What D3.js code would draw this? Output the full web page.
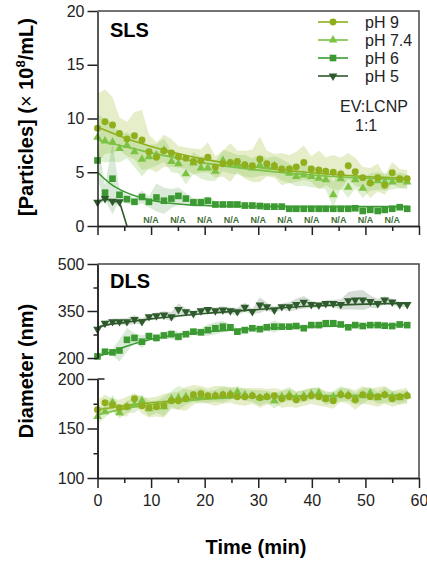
<!DOCTYPE html>
<html>
<head>
<meta charset="utf-8">
<script src="https://cdn.jsdelivr.net/npm/d3@7"></script>
<style>
  body { margin: 0; background: #fff; }
  text { font-family: "Liberation Sans", Arial, sans-serif; }
</style>
</head>
<body>
<svg id="chart" width="427" height="563"></svg>
<script>
// time points (min)
const time = [0, 1.4, 2.8, 4.1, 5.5, 6.9, 8.3, 9.6, 11, 12.4, 13.8, 15.1, 16.5, 17.9, 19.3, 20.6, 22, 23.4, 24.8, 26.1,
  27.5, 28.9, 30.3, 31.6, 33, 34.4, 35.8, 37.1, 38.5, 39.9, 41.3, 42.6, 44, 45.4, 46.8, 48.1, 49.5, 50.9, 52.3, 53.6,
  55, 56.4, 57.8];

// SLS particle concentration (x 10^8 / mL)
const slsPH9 = [9.1, 9.7, 9.4, 8.6, 8.1, 8.4, 8.0, 6.9, 6.4, 7.0, 6.8, 6.45, 6.3, 6.0, 6.05, 6.4, 5.5, 5.8, 5.9, 6.0,
  5.7, 5.6, 6.2, 5.8, 5.6, 5.3, 5.3, 5.5, 5.9, 5.3, 5.2, 5.1, 5.0, 4.85, 5.6, 5.05, 4.5, 4.0, 4.5, 3.8, 4.95, 4.4, 4.4];
const slsErr9 = [3.2, 3.0, 2.6, 1.5, 1.6, 2.2, 2.8, 1.6, 1.4, 1.5, 1.3, 1.0, 1.0, 1.2, 1.1, 1.4, 1.0, 1.2, 1.8, 1.0,
  1.3, 1.5, 2.1, 1.2, 1.1, 1.5, 1.3, 1.4, 1.6, 1.2, 1.8, 1.3, 1.6, 1.5, 1.2, 1.3, 1.0, 1.4, 1.3, 0.9, 1.0, 0.9, 0.8];
const slsPH74 = [8.25, 7.9, 7.8, 7.2, 7.5, 6.9, 6.2, 6.45, 6.6, 7.05, 6.0, 5.8, 4.85, 5.85, 5.4, 5.4, 5.1, 6.1, 5.85, 5.7,
  5.6, 5.4, 5.65, 5.5, 5.6, 5.2, 4.9, 4.6, 4.75, 4.6, 4.45, 4.3, 2.9, 4.4, 3.6, 4.3, 3.5, 4.1, 4.2, 4.1, 4.1, 4.25, 4.1];
const slsErr74 = [2.2, 2.0, 1.8, 1.3, 1.2, 1.4, 1.6, 1.1, 1.0, 1.1, 1.0, 0.9, 1.0, 1.0, 1.0, 1.2, 0.9, 1.0, 1.0, 0.9,
  1.0, 0.9, 1.0, 0.8, 0.9, 1.0, 0.9, 0.9, 1.0, 1.0, 0.9, 0.9, 1.2, 0.9, 1.0, 0.8, 0.9, 0.8, 0.8, 0.8, 0.7, 0.7, 0.7];
const slsPH6 = [6.1, 3.1, 4.4, 2.9, 2.5, 2.25, 2.7, 2.25, 2.65, 2.35, 2.55, 2.8, 2.55, 2.2, 2.2, 2.35, 2.0, 2.0, 2.0, 2.0,
  1.9, 1.9, 1.86, 1.8, 1.8, 1.8, 1.6, 1.6, 1.6, 1.6, 1.6, 1.6, 1.6, 1.6, 1.6, 1.65, 1.4, 1.5, 1.4, 1.5, 1.6, 1.75, 1.6];
const slsErr6 = [1.8, 0.7, 3.3, 0.5, 0.4, 0.3, 0.6, 0.5, 1.3, 1.2, 0.9, 0.8, 0.5, 0.4, 0.4, 0.4, 0.3, 0.3, 0.3, 0.3,
  0.3, 0.3, 0.3, 0.3, 0.3, 0.3, 0.2, 0.2, 0.2, 0.2, 0.2, 0.2, 0.2, 0.2, 0.2, 0.2, 0.2, 0.2, 0.2, 0.2, 0.2, 0.3, 0.2];
const slsPH5 = [2.2, 2.55, 2.3, 2.25, 0];
const slsErr5 = [0.3, 0.2, 0.2, 0.2, 0];
const naTimes = [10, 15, 20, 25, 30, 35, 40, 45, 50, 55];

// DLS diameter (nm)
const dlsPH5 = [292, 311, 316, 316, 316, 323, 316, 332, 335, 337, 332, 355, 348, 342, 351, 355, 351, 353, 351, 348,
  362, 348, 369, 364, 353, 364, 364, 371, 378, 371, 369, 374, 374, 371, 383, 385, 385, 380, 374, 385, 379, 371, 371];
const dlsErr5 = [6, 8, 10, 10, 12, 14, 10, 8, 10, 12, 15, 20, 10, 9, 10, 8, 10, 12, 10, 12,
  14, 8, 25, 12, 10, 10, 15, 18, 20, 12, 8, 10, 12, 16, 28, 30, 32, 20, 15, 12, 10, 8, 8];
const dlsPH6 = [205, 220, 218, 224, 258, 264, 252, 270, 264, 272, 276, 268, 276, 284, 282, 289, 295, 300, 298, 284,
  289, 295, 292, 298, 300, 300, 300, 302, 295, 305, 305, 311, 311, 307, 298, 305, 302, 305, 305, 303, 302, 307, 305];
const dlsErr6 = [5, 8, 10, 35, 38, 15, 20, 10, 12, 10, 15, 15, 10, 10, 12, 18, 20, 18, 10, 10,
  10, 8, 10, 12, 19, 10, 8, 8, 8, 8, 10, 10, 10, 8, 8, 8, 8, 8, 8, 8, 8, 10, 8];
const dlsPH9 = [169, 176, 174, 171, 172, 180, 173, 171, 172, 173, 178, 178, 180, 184, 185, 183, 183, 184, 184, 182,
  182, 183, 181, 182, 183, 180, 182, 179, 181, 183, 182, 180, 178, 184, 183, 179, 184, 182, 182, 184, 180, 182, 183];
const dlsErr9 = [10, 8, 6, 8, 10, 6, 8, 10, 10, 12, 8, 9, 12, 10, 8, 8, 10, 9, 8, 8,
  9, 8, 10, 8, 8, 9, 10, 8, 8, 8, 9, 8, 8, 7, 8, 10, 9, 8, 10, 9, 8, 8, 8];
const dlsPH74 = [162, 167, 176, 166, 172, 174, 178, 170, 172, 172, 180, 181, 182, 183, 183, 182, 183, 184, 185, 187,
  184, 183, 181, 182, 178, 182, 184, 181, 183, 185, 186, 180, 182, 185, 184, 180, 183, 186, 181, 184, 182, 181, 183];
const dlsErr74 = [8, 6, 8, 6, 6, 8, 6, 8, 6, 10, 8, 12, 8, 6, 8, 6, 6, 8, 6, 6,
  6, 6, 8, 6, 8, 6, 6, 6, 6, 6, 6, 6, 6, 8, 6, 6, 8, 6, 6, 8, 6, 6, 6];

// fitted curves, read at a few time points
const fitTime = [0, 2.5, 5, 10, 15, 20, 30, 40, 50, 58];
const slsFit9 = [9.2, 8.7, 8.2, 7.4, 6.75, 6.2, 5.45, 4.95, 4.6, 4.45];
const slsFit74 = [8.0, 7.7, 7.4, 6.8, 6.3, 5.85, 5.2, 4.75, 4.45, 4.3];
const slsFit6 = [5.0, 3.9, 3.2, 2.4, 2.05, 1.9, 1.82, 1.8, 1.8, 1.8];
const dlsFit5 = [298, 308, 313, 325, 334, 342, 355, 366, 372, 375];
const dlsFit6 = [205, 218, 235, 260, 274, 283, 294, 300, 304, 306];
const dlsFit9 = [169, 171, 173, 176, 178.5, 180.5, 182, 183, 183, 183];
const dlsFit74 = [164, 167, 170, 174, 177, 179.5, 182, 183, 183.5, 184];

const legendLabels = ['pH 9', 'pH 7.4', 'pH 6', 'pH 5'];
const colors = ['#8fb01c', '#7cc243', '#3c9a32', '#2e5b2b'];
const bands = ['rgba(150,185,40,0.25)', 'rgba(125,195,70,0.25)', 'rgba(70,150,60,0.2)', 'rgba(70,100,70,0.22)'];
const symbols = [d3.symbolCircle, d3.symbolTriangle, d3.symbolSquare, d3.symbolTriangle];
const symSizes = [38, 32, 44, 32];

const svg = d3.select('#chart');
const x = d3.scaleLinear().domain([0, 60]).range([97.5, 419]);
const ySLS = d3.scaleLinear().domain([0, 20]).range([226, 11]);
const yTop = d3.scaleLinear().domain([200, 500]).range([358, 264]);
const yBot = d3.scaleLinear().domain([100, 200]).range([478, 379]);

const drawBand = (y, vals, errs, k) => {
  const area = d3.area()
    .x(i => x(time[i]))
    .y0(i => y(vals[i] - errs[i]))
    .y1(i => y(vals[i] + errs[i]));
  svg.append('path')
    .attr('d', area(d3.range(vals.length)))
    .attr('fill', bands[k]);
};

const drawFit = (y, fit, k) => {
  const line = d3.line()
    .x((d, i) => x(fitTime[i]))
    .y(d => y(d))
    .curve(d3.curveMonotoneX);
  svg.append('path')
    .attr('d', line(fit))
    .attr('fill', 'none')
    .attr('stroke', colors[k])
    .attr('stroke-width', 1.6);
};

const drawMarkers = (y, vals, k) => {
  const sym = d3.symbol(symbols[k], symSizes[k]);
  svg.append('g').selectAll('path')
    .data(vals.map((v, i) => ({ t: time[i], v })).filter(d => d.v > 0))
    .enter()
    .append('path')
    .attr('d', sym)
    .attr('transform', d => `translate(${x(d.t)},${y(d.v)})` + (k === 3 ? ' rotate(180)' : ''))
    .attr('fill', colors[k]);
};

// ---- SLS panel ----
drawBand(ySLS, slsPH9, slsErr9, 0);
drawBand(ySLS, slsPH74, slsErr74, 1);
drawBand(ySLS, slsPH6, slsErr6, 2);
drawBand(ySLS, slsPH5, slsErr5, 3);
drawFit(ySLS, slsFit9, 0);
drawFit(ySLS, slsFit74, 1);
drawFit(ySLS, slsFit6, 2);
svg.append('path')
  .attr('d', d3.line().x((d, i) => x(time[i])).y(d => ySLS(d))(slsPH5))
  .attr('fill', 'none')
  .attr('stroke', colors[3])
  .attr('stroke-width', 1.6);
drawMarkers(ySLS, slsPH74, 1);
drawMarkers(ySLS, slsPH9, 0);
drawMarkers(ySLS, slsPH6, 2);
drawMarkers(ySLS, slsPH5, 3);

svg.append('g').selectAll('text')
  .data(naTimes)
  .enter()
  .append('text')
  .attr('x', d => x(d))
  .attr('y', ySLS(0) - 3)
  .attr('text-anchor', 'middle')
  .attr('font-size', 9)
  .attr('font-weight', 'bold')
  .attr('fill', '#3f6e37')
  .text('N/A');

// ---- DLS panel ----
drawBand(yTop, dlsPH5, dlsErr5, 3);
drawBand(yTop, dlsPH6, dlsErr6, 2);
drawBand(yBot, dlsPH9, dlsErr9, 0);
drawBand(yBot, dlsPH74, dlsErr74, 1);
drawFit(yTop, dlsFit5, 3);
drawFit(yTop, dlsFit6, 2);
drawFit(yBot, dlsFit9, 0);
drawFit(yBot, dlsFit74, 1);
drawMarkers(yTop, dlsPH5, 3);
drawMarkers(yTop, dlsPH6, 2);
drawMarkers(yBot, dlsPH74, 1);
drawMarkers(yBot, dlsPH9, 0);

// ---- axes ----
const styleAxis = (g, fs) => {
  g.attr('font-size', fs).attr('font-family', '"Liberation Sans", Arial, sans-serif').attr('color', '#222');
  g.selectAll('path, line').attr('stroke-width', 1.5);
  g.selectAll('text').attr('fill', '#222');
};

svg.append('g').attr('transform', `translate(${x(0)},0)`)
  .call(d3.axisLeft(ySLS).tickValues([0, 5, 10, 15, 20]).tickSize(10).tickSizeOuter(0).tickPadding(3))
  .call(g => styleAxis(g, 16));

svg.append('g').attr('transform', `translate(${x(0)},0)`)
  .call(d3.axisLeft(yTop).tickValues([200, 350, 500]).tickSize(10).tickSizeOuter(0).tickPadding(3))
  .call(g => styleAxis(g, 16));
svg.append('g').attr('transform', `translate(${x(0)},0)`)
  .call(d3.axisLeft(yTop).tickValues([275, 425]).tickSize(4).tickSizeOuter(0).tickFormat(''))
  .call(g => styleAxis(g, 16));

svg.append('g').attr('transform', `translate(${x(0)},0)`)
  .call(d3.axisLeft(yBot).tickValues([100, 150, 200]).tickSize(10).tickSizeOuter(0).tickPadding(3))
  .call(g => styleAxis(g, 16));
svg.append('g').attr('transform', `translate(${x(0)},0)`)
  .call(d3.axisLeft(yBot).tickValues([125, 175]).tickSize(4).tickSizeOuter(0).tickFormat(''))
  .call(g => styleAxis(g, 16));
// break mark at the bottom segment top
svg.append('line')
  .attr('x1', x(0)).attr('x2', x(0) + 7)
  .attr('y1', yBot(200)).attr('y2', yBot(200))
  .attr('stroke', '#222').attr('stroke-width', 1.5);

const xMajor = [0, 10, 20, 30, 40, 50, 60];
const xMinor = [5, 15, 25, 35, 45, 55];
svg.append('g').attr('transform', `translate(0,${ySLS(0)})`)
  .call(d3.axisBottom(x).tickValues(xMajor).tickSize(9).tickSizeOuter(0).tickFormat(''))
  .call(g => styleAxis(g, 16));
svg.append('g').attr('transform', `translate(0,${ySLS(0)})`)
  .call(d3.axisBottom(x).tickValues(xMinor).tickSize(5).tickSizeOuter(0).tickFormat(''))
  .call(g => styleAxis(g, 16));
svg.append('g').attr('transform', `translate(0,${yBot(100)})`)
  .call(d3.axisBottom(x).tickValues(xMajor).tickSize(10).tickSizeOuter(0).tickPadding(7))
  .call(g => styleAxis(g, 16));
svg.append('g').attr('transform', `translate(0,${yBot(100)})`)
  .call(d3.axisBottom(x).tickValues(xMinor).tickSize(5).tickSizeOuter(0).tickFormat(''))
  .call(g => styleAxis(g, 16));

// frame top + right
const frame = (yTopPx, yBotPx) => {
  svg.append('path')
    .attr('d', `M${x(0)},${yTopPx}H${x(60)}V${yBotPx}`)
    .attr('fill', 'none')
    .attr('stroke', '#444')
    .attr('stroke-width', 1.5);
};
frame(ySLS(20), ySLS(0));
frame(yTop(500), yBot(100));

// ---- labels ----
svg.append('text').attr('x', 110).attr('y', 37)
  .attr('font-size', 20).attr('font-weight', 'bold').text('SLS');
svg.append('text').attr('x', 110).attr('y', 288)
  .attr('font-size', 20).attr('font-weight', 'bold').text('DLS');

const yTitle1 = svg.append('text')
  .attr('transform', 'translate(33,117) rotate(-90)')
  .attr('text-anchor', 'middle')
  .attr('font-size', 20)
  .attr('font-weight', 'bold');
yTitle1.append('tspan').text('[Particles] (');
yTitle1.append('tspan').attr('font-weight', 'normal').text('\u00d7');
yTitle1.append('tspan').text(' 10');
yTitle1.append('tspan').attr('font-size', 13).attr('dy', -8).text('8');
yTitle1.append('tspan').attr('dy', 8).text('/mL)');

svg.append('text')
  .attr('transform', 'translate(33,371) rotate(-90)')
  .attr('text-anchor', 'middle')
  .attr('font-size', 20)
  .attr('font-weight', 'bold')
  .text('Diameter (nm)');

svg.append('text').attr('x', 256).attr('y', 554)
  .attr('text-anchor', 'middle')
  .attr('font-size', 20).attr('font-weight', 'bold')
  .text('Time (min)');

// legend
const legend = svg.append('g');
legendLabels.forEach((lab, k) => {
  const ly = 22 + k * 18;
  legend.append('line')
    .attr('x1', 318).attr('x2', 348).attr('y1', ly).attr('y2', ly)
    .attr('stroke', colors[k]).attr('stroke-width', 1.6);
  legend.append('path')
    .attr('d', d3.symbol(symbols[k], symSizes[k])())
    .attr('transform', `translate(333,${ly})` + (k === 3 ? ' rotate(180)' : ''))
    .attr('fill', colors[k]);
  legend.append('text')
    .attr('x', 365).attr('y', ly + 6)
    .attr('font-size', 16).attr('fill', '#222')
    .text(lab);
});
svg.append('text').attr('x', 340).attr('y', 112)
  .attr('font-size', 16).attr('fill', '#222').text('EV:LCNP');
svg.append('text').attr('x', 355).attr('y', 131)
  .attr('font-size', 16).attr('fill', '#222').text('1:1');
</script>
</body>
</html>
